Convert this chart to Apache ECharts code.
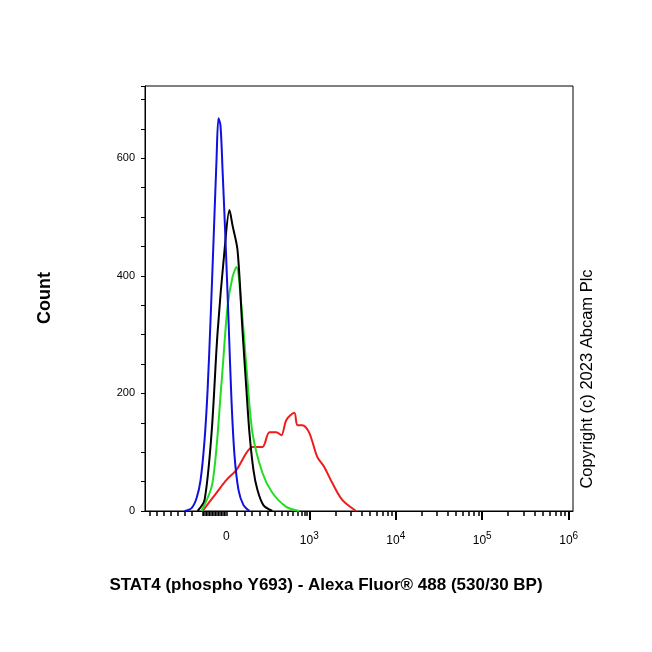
<!DOCTYPE html>
<html><head><meta charset="utf-8">
<script src="https://cdn.jsdelivr.net/npm/echarts@6/dist/echarts.min.js"></script>
<style>html,body{margin:0;padding:0;background:#fff}#c{width:652px;height:652px}</style>
</head><body><div id="c"></div>
<script>
// x in biexponential display units (one decade = 1; 10^3 at 3)
const blueX=[1.558,1.639,1.697,1.743,1.789,1.824,1.858,1.893,1.927,1.950,1.973,1.997,2.031,2.066,2.100,2.135,2.181,2.239,2.308];
const blueY=[0,5,22,53,121,206,325,461,597,668,656,580,461,325,189,95,36,10,0];
const blackX=[1.708,1.789,1.870,1.939,2.020,2.077,2.112,2.170,2.227,2.273,2.308,2.354,2.400,2.469,2.573];
const blackY=[0,19,133,303,444,512,486,444,308,206,133,70,36,10,0];
const greenX=[1.754,1.881,1.985,2.054,2.112,2.158,2.216,2.273,2.343,2.458,2.573,2.735,2.885];
const greenY=[0,48,218,347,398,415,347,245,133,65,31,7,0];
const redX=[1.766,1.927,2.043,2.158,2.273,2.343,2.458,2.539,2.619,2.677,2.735,2.827,2.862,2.919,3.0,3.092,3.173,3.265,3.381,3.542];
const redY=[0,31,53,70,99,109,109,134,134,129,155,167,146,146,133,92,75,48,19,0];
const xTickLabels=[{v:2.04,t:'0'},{v:3,t:'10{s|3}'},{v:4,t:'10{s|4}'},{v:5,t:'10{s|5}'},{v:6,t:'10{s|6}'}];
const yTickLabels=[0,200,400,600];

const zip=(a,b)=>a.map((v,i)=>[v,b[i]]);
const px=p=>3+(p-310)/86.7;
let minor=[];
[150,157,164,171,178,185,192,237,245,252,260,268,275,282,288,293,298,302,305,307].forEach(p=>minor.push(+px(p).toFixed(4)));
for(let p=203;p<=227;p+=1.5) minor.push(+px(p).toFixed(4));
for(let d=3;d<6;d++) for(let k=2;k<10;k++) minor.push(d+Math.log10(k));
const major=[3,4,5,6];
const ch=echarts.init(document.getElementById('c'));
const ln=(x,y,c)=>({type:'line',data:zip(x,y),showSymbol:false,smooth:0.3,lineStyle:{color:c,width:2},xAxisIndex:0,yAxisIndex:0});
ch.setOption({
 animation:false,
 grid:{left:145,right:79,top:86,bottom:141,show:true,borderColor:'#000',borderWidth:1},
 xAxis:[
  {type:'value',min:1.1,max:6.05,position:'bottom',splitLine:{show:false},
   axisLine:{lineStyle:{color:'#000'}},
   axisTick:{customValues:minor,length:5,inside:false,lineStyle:{color:'#000',width:1.5}},
   axisLabel:{customValues:xTickLabels.map(o=>o.v),margin:20,fontFamily:'Liberation Sans',fontSize:12,color:'#000',
     formatter:v=>{const o=xTickLabels.find(o=>Math.abs(o.v-v)<1e-6);return o?o.t:'';},
     rich:{s:{fontSize:10,verticalAlign:'top',padding:[0,0,9,0],fontFamily:'Liberation Sans'}}}},
  {type:'value',min:1.1,max:6.05,position:'bottom',splitLine:{show:false},axisLine:{show:false},
   axisTick:{customValues:major,length:9,lineStyle:{color:'#000',width:2}},axisLabel:{show:false}}
 ],
 yAxis:{type:'value',min:0,max:723,interval:50,splitLine:{show:false},
  axisLine:{lineStyle:{color:'#000'}},axisTick:{length:4,lineStyle:{color:'#000'}},
  axisLabel:{fontFamily:'Liberation Sans',fontSize:11,color:'#000',margin:10,formatter:v=>yTickLabels.includes(v)?String(v):''}},
 series:[ln(redX,redY,'#ee1c1c'),ln(greenX,greenY,'#22dd22'),ln(blackX,blackY,'#000'),ln(blueX,blueY,'#1010e0')],
 graphic:[
  {type:'text',left:'center',top:577,style:{text:'STAT4 (phospho Y693) - Alexa Fluor® 488 (530/30 BP)',font:'bold 17px "Liberation Sans"',fill:'#000'}},
  {type:'text',x:45,y:298,rotation:Math.PI/2,style:{text:'Count',font:'bold 18px "Liberation Sans"',fill:'#000',align:'center',verticalAlign:'middle'}},
  {type:'text',x:587,y:379,rotation:Math.PI/2,style:{text:'Copyright (c) 2023 Abcam Plc',font:'16.5px "Liberation Sans"',fill:'#000',align:'center',verticalAlign:'middle'}}
 ]
});
</script></body></html>
